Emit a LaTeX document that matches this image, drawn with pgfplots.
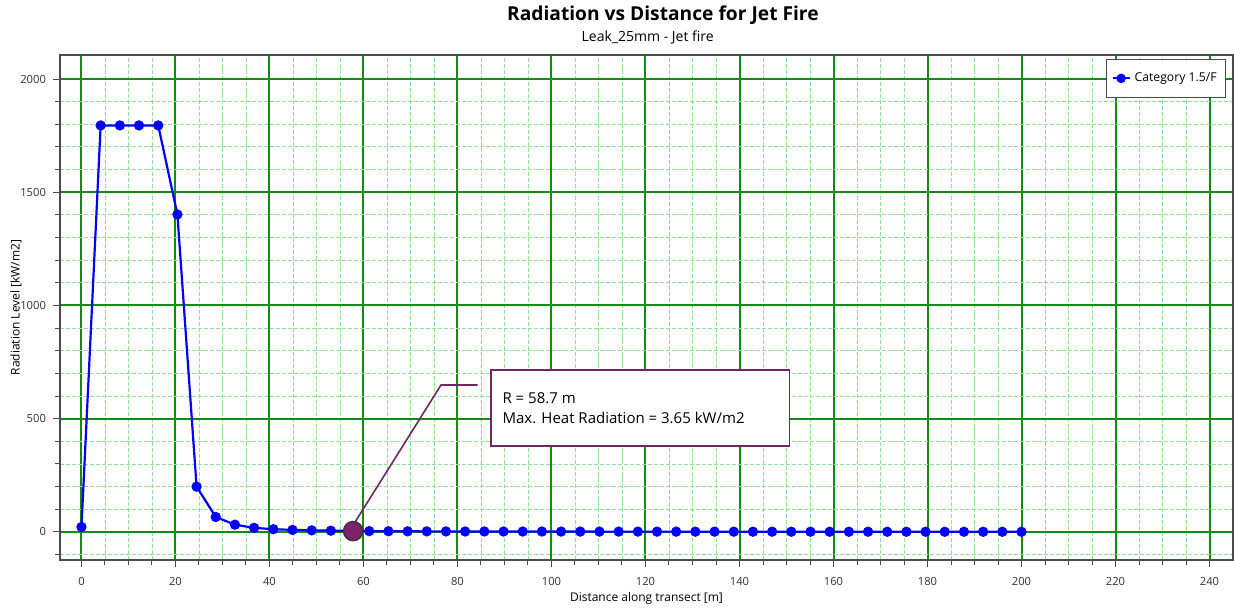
\documentclass[border=0pt]{standalone}
\usepackage{fontspec}
\setmainfont{Open Sans}
\usepackage{pgfplots}
\pgfplotsset{compat=1.18}
\definecolor{majgrid}{RGB}{20,140,20}
\definecolor{mingrid}{RGB}{150,225,150}
\definecolor{annot}{RGB}{110,40,95}
\definecolor{annfill}{RGB}{125,35,110}
\begin{document}
\begin{tikzpicture}
\useasboundingbox (-30pt,-23.5pt) rectangle (587pt,280pt);
\begin{axis}[
  scale only axis, width=586.5pt, height=252.5pt,
  at={(0,0)}, anchor=south west,
  xmin=-4.57, xmax=245, ymin=-124, ymax=2106,
  xtick distance=20, ytick distance=500,
  minor x tick num=3, minor y tick num=4,
  grid=both,
  major grid style={majgrid, line width=1pt},
  minor grid style={mingrid, dashed, dash pattern=on 2pt off 1pt, line width=0.45pt},
  axis line style={black!70, line width=0.6pt},
  tick style={black!70, line width=0.5pt},
  tick align=outside,
  major tick length=3.5pt, minor tick length=2.5pt,
  xtick pos=bottom, ytick pos=left,
  /pgf/number format/assume math mode=true,
  /pgf/number format/1000 sep={},
  ticklabel style={font=\fontsize{5.6pt}{6pt}\selectfont, text=black!80},
  xticklabel style={yshift=-1.5pt},
  xlabel={Distance along transect [m]},
  ylabel={Radiation Level [kW/m2]},
  label style={font=\fontsize{6pt}{7pt}\selectfont},
  xlabel style={at={(axis description cs:0.5,-0.0752)}, anchor=center},
  ylabel style={at={(axis description cs:-0.0375,0.5)}, anchor=center},
  legend style={at={(0.994,0.992)}, anchor=north east, draw=black!70, fill=white,
    font=\fontsize{6.1pt}{7pt}\selectfont, inner xsep=2.5pt, inner ysep=4.5pt,
    legend cell align=left},
  legend image code/.code={
    \draw[blue, line width=1pt] (0pt,0pt) -- (8.5pt,0pt);
    \fill[blue] (4.25pt,0pt) circle (1.8pt);},
  clip=false,
]
\addplot[blue, line width=1.1pt, mark=*, mark size=2pt, mark options={fill=blue}] coordinates {
(0,22) (4.08,1795) (8.16,1795) (12.24,1795) (16.33,1795) (20.41,1402)
(24.49,200) (28.57,66) (32.65,32) (36.73,18) (40.82,12) (44.90,9)
(48.98,7) (53.06,5.5) (57.14,4.5) (61.22,3.5) (65.31,3)
(69.39,2.7) (73.47,2.5) (77.55,2.3) (81.63,2.1) (85.71,2.0)
(89.80,1.9) (93.88,1.8) (97.96,1.7) (102.04,1.6) (106.12,1.5)
(110.20,1.45) (114.29,1.4) (118.37,1.35) (122.45,1.3) (126.53,1.25)
(130.61,1.2) (134.69,1.15) (138.78,1.1) (142.86,1.05) (146.94,1.0)
(151.02,0.98) (155.10,0.95) (159.18,0.92) (163.27,0.9) (167.35,0.87)
(171.43,0.85) (175.51,0.82) (179.59,0.8) (183.67,0.78) (187.76,0.76)
(191.84,0.74) (195.92,0.72) (200.00,0.7)
};
\addlegendentry{Category 1.5/F}
\addplot[annot, line width=0.8pt, forget plot] coordinates {(57.8,30) (76.5,649) (84.3,649)};
\addplot[only marks, mark=*, mark size=4.8pt, mark options={fill=annfill, draw=black!80, line width=0.7pt}, forget plot] coordinates {(57.8,3.65)};
\draw[annot, line width=0.7pt, fill=white] (axis cs:87.1,715) rectangle (axis cs:150.7,380);
\node[anchor=west, font=\fontsize{7.5pt}{8pt}\selectfont, inner sep=0pt] at (axis cs:89.5,592) {R = 58.7 m};
\node[anchor=west, font=\fontsize{7.5pt}{8pt}\selectfont, inner sep=0pt] at (axis cs:89.5,503) {Max. Heat Radiation = 3.65 kW/m2};
\node[font=\bfseries\fontsize{9.6pt}{10pt}\selectfont, anchor=center] at (rel axis cs:0.514,1.079) {Radiation vs Distance for Jet Fire};
\node[font=\fontsize{7pt}{8pt}\selectfont, anchor=center] at (rel axis cs:0.501,1.0356) {Leak\_25mm - Jet fire};
\end{axis}
\end{tikzpicture}
\end{document}
